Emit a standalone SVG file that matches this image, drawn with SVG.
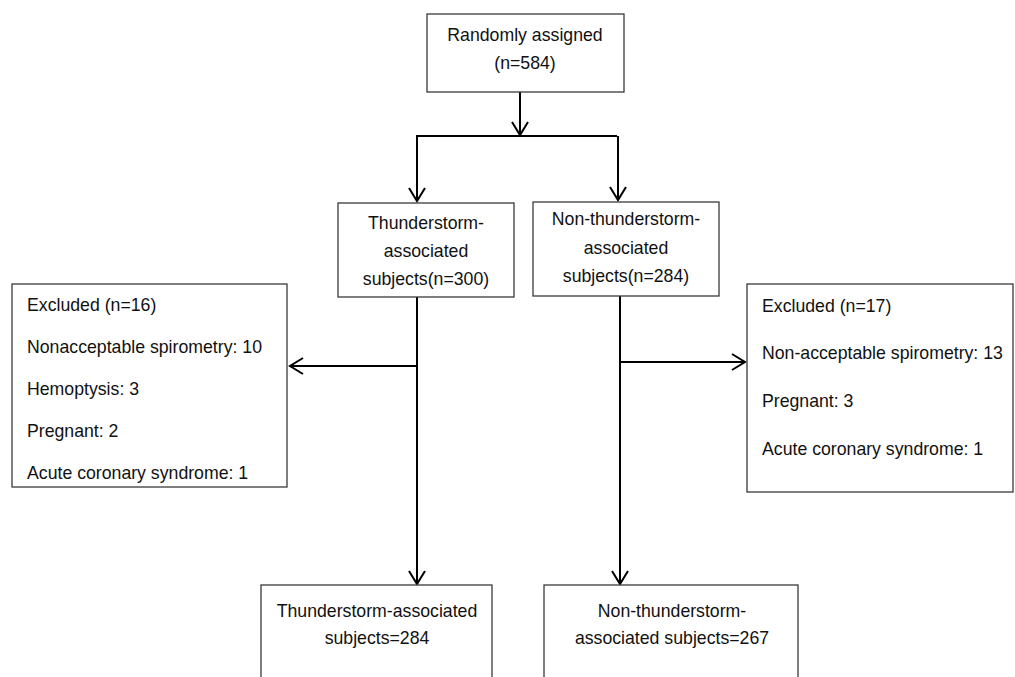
<svg xmlns="http://www.w3.org/2000/svg" width="1015" height="677" viewBox="0 0 1015 677">
<defs>
<marker id="arr" markerUnits="userSpaceOnUse" markerWidth="30" markerHeight="30" viewBox="-15 -15 30 30" refX="0" refY="0" orient="auto">
<path d="M-13,-8 L0,0 L-13,8" fill="none" stroke="#000" stroke-width="2"/>
</marker>
</defs>
<style>
.box{fill:#fff;stroke:#3a3a3a;stroke-width:1.3}
.t{font-family:"Liberation Sans",Arial,sans-serif;font-size:17.7px;fill:#111}
.c{text-anchor:middle}
.ln{fill:none;stroke:#000;stroke-width:2}
</style>
<rect width="1015" height="677" fill="#fff"/>
<g id="connectors">
<line class="ln" x1="520" y1="92" x2="520" y2="135" marker-end="url(#arr)"/>
<line class="ln" x1="416" y1="136" x2="617" y2="136"/>
<line class="ln" x1="417" y1="136" x2="417" y2="201" marker-end="url(#arr)"/>
<line class="ln" x1="618" y1="136" x2="618" y2="200" marker-end="url(#arr)"/>
<line class="ln" x1="417" y1="297" x2="417" y2="584" marker-end="url(#arr)"/>
<line class="ln" x1="417" y1="366" x2="290" y2="366" marker-end="url(#arr)"/>
<line class="ln" x1="620" y1="296" x2="620" y2="584" marker-end="url(#arr)"/>
<line class="ln" x1="620" y1="362" x2="745" y2="362" marker-end="url(#arr)"/>
</g>
<g id="randomized">
<rect class="box" x="427" y="14" width="197" height="78"/>
<text class="t c" x="525" y="41">Randomly assigned</text>
<text class="t c" x="525" y="69">(n=584)</text>
</g>
<g id="thunder">
<rect class="box" x="338" y="203" width="176" height="94"/>
<text class="t c" x="426" y="229">Thunderstorm-</text>
<text class="t c" x="426" y="257">associated</text>
<text class="t c" x="426" y="285">subjects(n=300)</text>
</g>
<g id="nonthunder">
<rect class="box" x="533" y="202" width="186" height="94"/>
<text class="t c" x="626" y="225">Non-thunderstorm-</text>
<text class="t c" x="626" y="254">associated</text>
<text class="t c" x="626" y="282">subjects(n=284)</text>
</g>
<g id="excluded-left">
<rect class="box" x="12" y="284" width="275" height="203"/>
<text class="t" x="27" y="311">Excluded (n=16)</text>
<text class="t" x="27" y="353">Nonacceptable spirometry: 10</text>
<text class="t" x="27" y="395">Hemoptysis: 3</text>
<text class="t" x="27" y="437">Pregnant: 2</text>
<text class="t" x="27" y="479">Acute coronary syndrome: 1</text>
</g>
<g id="excluded-right">
<rect class="box" x="747" y="284" width="266" height="208"/>
<text class="t" x="762" y="312">Excluded (n=17)</text>
<text class="t" x="762" y="359">Non-acceptable spirometry: 13</text>
<text class="t" x="762" y="407">Pregnant: 3</text>
<text class="t" x="762" y="455">Acute coronary syndrome: 1</text>
</g>
<g id="thunder-final">
<rect class="box" x="261" y="585" width="231" height="100"/>
<text class="t c" x="377" y="617">Thunderstorm-associated</text>
<text class="t c" x="377" y="644">subjects=284</text>
</g>
<g id="nonthunder-final">
<rect class="box" x="544" y="585" width="254" height="100"/>
<text class="t c" x="672" y="617">Non-thunderstorm-</text>
<text class="t c" x="672" y="644">associated subjects=267</text>
</g>
</svg>
